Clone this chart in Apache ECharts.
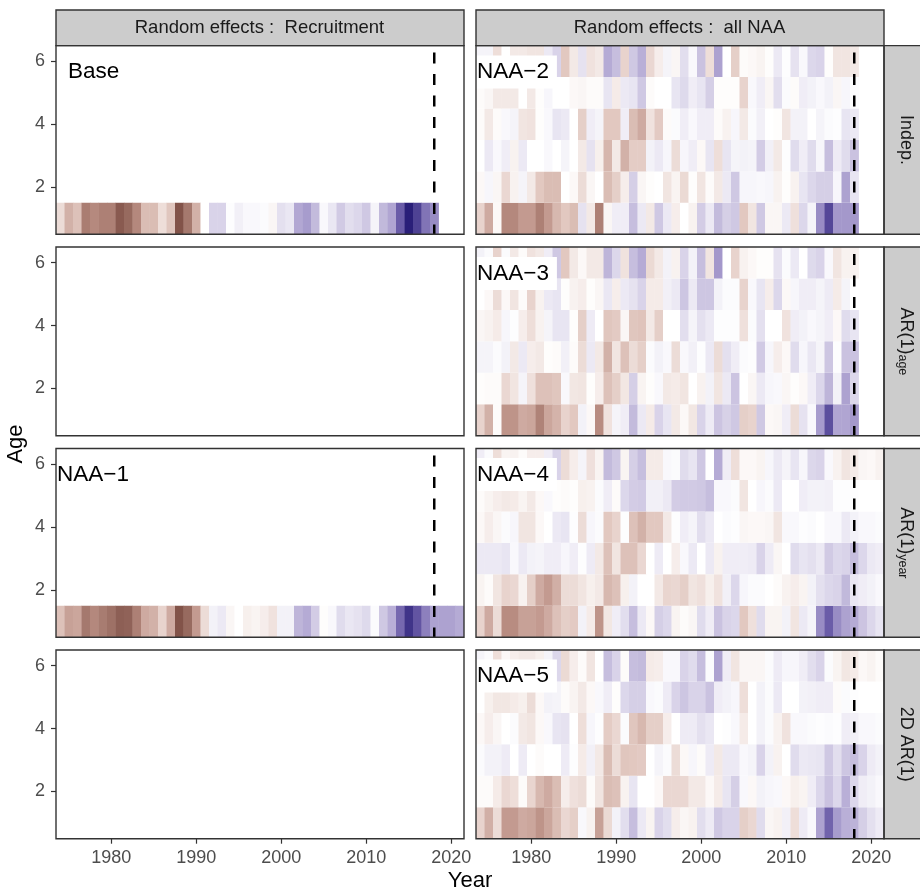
<!DOCTYPE html>
<html><head><meta charset="utf-8">
<style>html,body{margin:0;padding:0;background:#fff}#c{width:920px;height:894px}</style>
<script src="https://cdn.jsdelivr.net/npm/echarts@6/dist/echarts.min.js"></script>
</head><body><div id="c"></div>
<script>
const xTicks=[1980,1990,2000,2010,2020];
const yTicks=[2,4,6];
const refYear=[2018];
// each row: 1974.. ; rows listed age 1 to 6
const baseAge1=[-1.6,-3.5,-2.8,-6.2,-5.4,-6, -6,-8.5,-7.5,-5.5,-3,-3,-1.5,-2.6,-9,-6.5, -3.5,0,2,2,.1,.7,.3,.3,.2,-.4, 1.4,1.1,4.2,4.8,3.2,.3,1.1,2.4,1.5,1.8, 2.5,.5,3.3,4.3,7.5,9.8,8.5,6.5,5.5];
const naa1Age1=[-2.8,-4.2,-4,-6.5,-5.5,-6.3, -7,-8.2,-8,-6,-3.8,-3.5,-2,-3.8,-9,-7.5, -4.5,-1.6,.6,1,-.4,0,-.7,-.5,-.8,-1.3, .6,.6,3.5,4,2.3,-.1,.3,1.6,1.1,1.3, 1.7,.2,2.5,3.8,7,9,7.8,6,4.5,4.5,4.5,4];
const naa2=[
[-2,-3.8,-.3,-5.5,-5.5,-4.5, -4.5,-6,-4.5,-3.2,-2.5,-3,1.3,-1,-6,-.4, .8,.8,3,1,-1,2.5,1,-.8,0,-.6, 2.3,1,3.2,2.2,2.5,-2.5,-1.2,2.5,-.4,-.4, 1,-1.4,1.8,.5,5.5,8.3,5,5,5],
[-.3,.4,-.4,-1.8,-.6,.5, -1,-2.5,-3,-3,0,-.3,-1.6,-.4,0,-3, -2.2,-.8,2.2,-.4,-.1,0,-1.2,-.5,-1.7,-.1, -1.2,-.2,-1,1,2.5,.4,.4,.3,.4,-.6, -.1,-.6,1.2,1.8,2.2,2.2,.4,4.5,1.2],
[0,1,.3,.8,-.6,1, 0,0,.3,0,.5,0,-1,1.3,-.7,-3.3, -1,-3.5,-2.3,-2.3,.6,1,.4,-1.6,.4,.8, -.3,1.2,-1.5,1.2,.5,.6,.5,2.3,.7,-1, .1,1.6,.8,1.6,.4,3,.9,1.6,2.8],
[-.2,-1,-.2,.3,.5,-1.2, -1.3,-.1,.3,1.2,1,0,-2.2,.8,.5,-2.5, -2.5,.8,-3,-3.8,-1.3,-2.4,-.2,.2,.8,.3, .8,.8,-.2,-.6,.4,-1,.2,.7,0,-.1, -1.2,.6,.6,0,.5,.2,.1,1.2,1],
[-.2,-.4,-1,-1,-1,0, -1,-.1,.4,0,0,-.3,-.4,-.2,-.2,1.2, -.9,1,1.2,2.5,-.2,0,0,1.2,1.7,.8, 1.2,2.2,-.1,-.1,-.1,-2,.3,.8,-.4,1.5, .2,-.2,.8,.6,.3,.6,-.4,.4,.1],
[.5,.5,-1.5,0,-1,-1, -1.2,-1.2,1,2,-2.5,-1,1.3,-1.3,-1,4, 3,-2,2.5,3.8,-1.8,-.8,.5,-.4,1.5,.3, 2.8,-1.5,4.5,0,-2.2,-.2,-.3,-.5,-.1,1, .1,1.3,.3,1.8,2,-.1,-1.2,-1.2,-1]
];
const naa3=[
[-2,-3.5,-.2,-4.8,-4.8,-3.8, -4,-5.8,-4,-3.4,-2,-2.5,.6,-.3,-5.2,-1.3, .5,.8,3.2,1,-.9,2,1.2,-1,-.3,-1.1, 2,.9,2.7,2.1,2.5,-2.2,-2,2.5,-.3,-.4, .8,-1.6,1.3,.3,4.8,8,4.3,4.3,5],
[-.1,-.2,-.2,-1.8,-1.2,.5, -1.4,-2.8,-2.8,-2.6,.3,-1.1,-1.2,-.1,-.8,-2.8, -2.2,-1.1,2.2,-.5,-.1,.3,-1,-.9,-1.2,0, -.6,.6,-1.2,1,2.7,0,-.4,1,.4,.3, -.4,-.1,-.3,.8,1.8,3.5,.6,4.5,1.8],
[.5,.5,.2,.6,-1,1, -.8,-1,-.1,-.2,.7,-.2,-1.6,1,-1,-3.5, -1.2,-2.8,-1.6,-2.2,.2,.6,.3,-1.6,.3,.7, .1,1,-1.6,1.4,.8,.2,.1,2.4,.4,-.8, -.3,1.6,.4,1.1,.5,2.6,.1,2.8,2.8],
[-.4,-.6,-.9,.4,.1,-.8, -1.5,-.6,.5,1.2,1.2,-.1,-2.2,.9,0,-2.6, -2.4,-.4,-2.6,-2.7,-1,-2.2,0,0,1.5,.5, 1.4,1,.1,.1,.1,-1.4,.2,1.4,0,0, -1.3,.8,.6,.3,.5,.8,-.3,1.6,1.2],
[0,-.3,-1.6,-.3,-1.2,-.2, -2,-.6,1,1.2,-.1,-.6,-.8,-.1,-.4,1.1, -.8,1,1.3,2,-.9,-.9,.7,1,2.6,1, 2.6,2.6,.6,.2,.2,-2,.3,1.2,-.8,1.8, -.3,.4,.8,.8,.5,.9,-.9,.5,0],
[.6,.2,-2,.2,-1,-.2, -1.3,-1,.8,2.5,-2.5,-1,-.3,-1,-1,3.5, 1.8,-1.3,3,4,-1.7,-1,.6,-.6,2,.6, 3,-1.2,5,0,-2,-.6,-.3,-.1,-.1,1.3, .2,1,0,1.7,2,.3,-1.2,-.6,-.6]
];
const naa4=[
[-2,-3.8,-1.6,-5.2,-5.2,-4.2, -4.2,-4.5,-3.8,-2.8,-2.2,-2.4,.6,-.9,-4.8,-1.1, .8,1.5,3,1,-.3,2.2,1.8,-.5,-.2,-.4, 1.6,.8,2.8,2,1.8,-2.5,-1.4,1.6,-.5,-.5, .6,-1.2,1,.5,5.5,7.5,5.5,4.5,4,2.7,1.8,1.2],
[-.5,-.2,-1.2,-2,-1.8,-.6, -2.2,-3.8,-4.5,-3.6,-1.6,-1.6,-1.2,-.7,-1,-3.2, -2.8,-.7,.6,0,0,-1,-1.9,-1.8,-2.2,-1.2, -1.4,-.7,-1.3,.7,1.8,.4,.2,.2,0,-.2, -.6,-.8,-.5,.6,1.4,1.8,2,3.3,1.1,.8,.6,.3],
[1,1,1,1.2,.3,1, .6,.5,.8,.8,.4,.8,.1,.9,-1,-2.8, -1.2,-2.8,-2.8,-1.8,0,.9,0,-.8,.3,1, 0,1,-.6,.8,.8,.8,.9,2,.9,-.4, 0,1.6,1.2,1.4,1,2.4,1.8,2,3,1.8,1,.8],
[-.3,-.8,-.4,.2,.4,-1.2, -1.2,-.3,0,1,1.2,.1,-1.6,.4,.2,-2.5, -2,.1,-2.8,-3.5,-2.5,-2.5,-1,.1,.8,.5, 1.5,1,0,.2,.1,-.4,-.3,-.3,-.4,-1.2, .3,.3,.1,.2,0,.3,.3,1,.6,.3,.3,.2],
[-.2,-.5,-.8,-1,-.9,-.5, -1,-.3,.3,-.1,-.2,-.1,-.7,-.6,.2,.8, -.2,1.8,2.3,2.4,.7,.7,1,2.3,2.4,2.4, 2.5,3,.3,.3,.2,-1.2,0,.4,.2,1, 0,0,.8,.6,.6,.7,.1,.1,.1,0,0,0],
[.8,.2,-1.5,-.5,-.6,-.2, -.8,-.8,.8,2,-1.6,-.8,.5,-1.4,-.5,3.2, 2.5,-.5,2.2,3,-.9,-.9,.3,.2,1.6,1.2, 2.5,0,4,.8,-1.5,-.3,-.3,-.5,.4,1, .5,1.2,.4,1.8,2,.3,-.6,-1.2,-.9,-.4,-.3,-.6]
];
const naa5=[
[-2,-3.6,-1.6,-4.5,-4.5,-3.8, -4,-4.8,-4,-3,-1.8,-2.2,.3,-.6,-4.2,-1.7, .6,1.5,3,1,-.5,2,1.5,-.8,-.4,-.6, 1.5,.9,2.5,2,2,-2.2,-1.8,1.6,-.4,-.6, .7,-1.5,.9,.3,4.5,7.2,4.8,3.8,3.6,2.2,1.4,.9],
[-.2,-.2,-.9,-1.8,-1.5,-.2, -1.9,-3.2,-3.8,-3,-.8,-1.4,-1.6,-.2,-1.2,-3, -2.8,-.6,1.2,0,0,-.3,-1.8,-1.8,-1.8,-1, -1,-.3,-.9,1.2,2.2,.3,-.3,.6,.4,.3, -.3,-.7,-.5,.8,1.8,2.8,1.8,3.8,1.8,.8,.6,.3],
[.2,.6,.6,.9,0,.9, 0,-.2,0,0,.9,.1,-.9,.7,-1,-3, -1.6,-2.6,-2.5,-2.4,0,.5,.2,-1.6,-.3,.4, -.2,.9,-1,1,1,.3,.5,2,.6,-.6, 0,1.6,1,1.1,1.2,2.5,1.5,2.6,3,2,.9,.6],
[-.3,-.8,-.4,0,.2,-1, -1.2,-.3,.3,1.2,1.3,0,-1.5,.4,.1,-2.3, -1.8,.2,-2.6,-3.2,-2.2,-2.2,-.8,0,.9,.9, 1.4,1.1,0,.1,.3,-.9,0,.6,.2,-.6, -1.3,.3,.3,.2,.1,.2,.1,.8,.7,.3,.3,.2],
[0,-.7,-1.1,-1.1,-.9,-.7, -1.6,-.3,.6,.5,-.2,-.5,-1,-.3,.3,.8, -.1,1.8,2.2,2.2,.3,.2,.9,2,2.6,2, 2,2.8,.8,.6,.4,-1.5,0,.6,.2,1, 0,0,.6,.7,.8,.8,-.2,.2,.1,0,0,0],
[.5,.2,-1.5,-.3,-.8,-1, -1,-.7,.5,1.8,-1.7,-.8,-.2,-1.2,0,3, 2,-.2,3,3.2,-.9,-.8,.3,.3,2,1.6, 3,.2,4.5,.8,-1.2,-.4,-.4,-.4,.2,.9, .4,.4,.8,1.5,2,.2,-.5,-1.1,-.9,-.3,-.5,-.2]
];
const rowStrips=['Indep.','{m|AR(1)}{s|age}','{m|AR(1)}{s|year}','2D AR(1)'];
const colStrips=['Random effects :  Recruitment','Random effects :  all NAA'];
const FONT='"Liberation Sans",Arial,sans-serif';
const colX=[56,476], W=408, H=188.7;
const rowY=[45.6,247,448.5,650];
const panels=[
 {c:0,r:0,rows:[baseAge1],label:'Base',lx:67,line:true},
 {c:1,r:0,rows:naa2,label:'NAA\u22122',line:true},
 {c:0,r:1,rows:null},
 {c:1,r:1,rows:naa3,label:'NAA\u22123',line:true},
 {c:0,r:2,rows:[naa1Age1],label:'NAA\u22121',lx:56,line:true},
 {c:1,r:2,rows:naa4,label:'NAA\u22124',line:true},
 {c:0,r:3,rows:null},
 {c:1,r:3,rows:naa5,label:'NAA\u22125',line:true}
];
const grid=[],xAxis=[],yAxis=[],series=[],title=[],graphic=[],heatIdx=[];
function renderCell(p,api){
  const x=api.value(0),y=api.value(1);
  const a=api.coord([x-.5,y+.5]),b=api.coord([x+.5,y-.5]);
  return {type:'rect',shape:{x:a[0],y:a[1],width:b[0]-a[0]+.4,height:b[1]-a[1]},style:{fill:api.visual('color')}};
}
panels.forEach((p,i)=>{
  const gx=colX[p.c],gy=rowY[p.r];
  grid.push({left:gx,top:gy,width:W,height:H,containLabel:false});
  xAxis.push({type:'value',gridIndex:i,min:1973.5,max:2021.5,splitLine:{show:false},axisLine:{show:false},
    axisTick:{show:p.r===3,length:5,customValues:xTicks,lineStyle:{color:'#333',width:1.2}},
    axisLabel:{show:p.r===3,customValues:xTicks,margin:10,fontSize:18,color:'#4d4d4d',fontFamily:FONT,formatter:v=>String(v)}});
  yAxis.push({type:'value',gridIndex:i,min:.5,max:6.5,splitLine:{show:false},axisLine:{show:false},
    axisTick:{show:p.c===0,length:5,customValues:yTicks,lineStyle:{color:'#333',width:1.2}},
    axisLabel:{show:p.c===0,customValues:yTicks,margin:11,fontSize:18,color:'#4d4d4d',fontFamily:FONT,formatter:v=>String(v)}});
  if(p.rows){
    const data=[];
    p.rows.forEach((vals,ai)=>vals.forEach((v,k)=>data.push([1974+k,ai+1,v])));
    heatIdx.push(series.length);
    series.push({type:'custom',xAxisIndex:i,yAxisIndex:i,renderItem:renderCell,data,encode:{x:0,y:1},clip:true,silent:true,animation:false,z:2});
  }
  if(p.line){
    series.push({type:'line',xAxisIndex:i,yAxisIndex:i,data:[[refYear[0],6.28],[refYear[0],.5]],showSymbol:false,symbol:'none',silent:true,animation:false,z:5,
      lineStyle:{color:'#000',width:2.5,type:[11,10.5],cap:'butt'}});
  }
  if(p.label){
    const lx=p.lx!==undefined?p.lx:gx;
    const labelTop={0:10.5,1:10.5,2:10,3:10}[p.r];
    title.push({text:p.label,left:lx,top:gy+labelTop,padding:[5,8,5,1],backgroundColor:'#fff',
      textStyle:{fontFamily:FONT,fontWeight:'normal',fontSize:22.5,color:'#000',lineHeight:22},z:6});
  }
  graphic.push({type:'rect',z:100,silent:true,shape:{x:gx,y:gy,width:W,height:H},style:{fill:'none',stroke:'#333',lineWidth:1.4}});
});
colStrips.forEach((t,c)=>{
  graphic.push({type:'rect',z:90,silent:true,shape:{x:colX[c],y:10,width:W,height:35.6},style:{fill:'#cccccc',stroke:'#333',lineWidth:1.4}});
  graphic.push({type:'text',z:91,silent:true,x:colX[c]+W/2-.5,y:28,style:{text:t,fill:'#1a1a1a',font:'18.5px '+FONT,textAlign:'center',textVerticalAlign:'middle'}});
});
const subRich={m:{fontSize:18,fontFamily:FONT,fill:'#1a1a1a'},s:{fontSize:12.5,fontFamily:FONT,fill:'#1a1a1a',padding:[7,0,0,0]}};
rowStrips.forEach((t,r)=>{
  graphic.push({type:'rect',z:90,silent:true,shape:{x:884,y:rowY[r],width:40,height:H},style:{fill:'#cccccc',stroke:'#333',lineWidth:1.4}});
  graphic.push({type:'text',z:91,silent:true,x:906,y:rowY[r]+H/2,rotation:-Math.PI/2,style:{text:t,rich:subRich,fill:'#1a1a1a',font:'18px '+FONT,textAlign:'center',textVerticalAlign:'middle'}});
});
graphic.push({type:'text',silent:true,x:470,y:881,style:{text:'Year',fill:'#000',font:'22px '+FONT,textAlign:'center',textVerticalAlign:'middle'}});
graphic.push({type:'text',silent:true,x:16,y:444,rotation:Math.PI/2,style:{text:'Age',fill:'#000',font:'22px '+FONT,textAlign:'center',textVerticalAlign:'middle'}});
const chart=echarts.init(document.getElementById('c'),null,{renderer:'canvas'});
chart.setOption({animation:false,backgroundColor:'#fff',grid,xAxis,yAxis,series,title,graphic,
  visualMap:{type:'continuous',show:false,min:-10,max:10,dimension:2,seriesIndex:heatIdx,
    inRange:{color:['#74433a','#976a5f','#bb8f84','#e2c8c0','#ffffff','#cfc8e3','#a498cb','#6a5ca8','#241a75']}}});
</script></body></html>
